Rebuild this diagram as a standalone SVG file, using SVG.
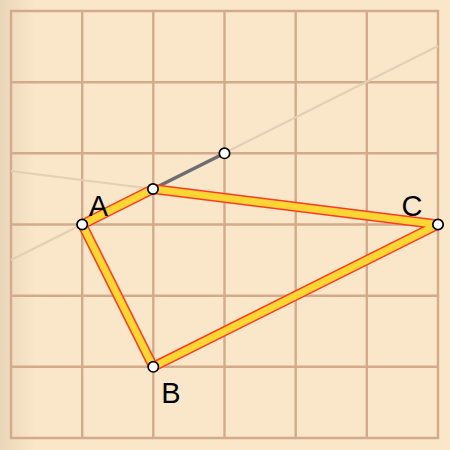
<svg xmlns="http://www.w3.org/2000/svg" width="450" height="450" viewBox="0 0 450 450">
<defs>
<linearGradient id="bgL" x1="0" y1="0" x2="1" y2="0">
<stop offset="0" stop-color="#ead6b8"/>
<stop offset="1" stop-color="#fae6c8"/>
</linearGradient>
<style>
.grid{stroke:#d3ab8b;stroke-width:2.4;fill:none}
.faint{stroke:#e2d0b4;stroke-width:2.2;fill:none}
.tri-o{stroke:#ff3b22;stroke-width:10;fill:none;stroke-linejoin:round}
.tri-i{stroke:#ffd633;stroke-width:7;fill:none;stroke-linejoin:round}
.seg{stroke:#6e6e6e;stroke-width:3.5;fill:none}
.pt{fill:#ffffff;stroke:#000000;stroke-width:1.7}
.lbl{font-family:"Liberation Sans",Arial,sans-serif;font-size:29px;fill:#000000;text-anchor:middle}
</style>
</defs>
<rect x="0" y="0" width="450" height="450" fill="#fae6c8"/>
<rect x="0" y="0" width="35" height="450" fill="url(#bgL)"/>
<g id="grid">
<path class="grid" d="M11 11H438V438H11Z M82.2 11V438 M153.3 11V438 M224.5 11V438 M295.7 11V438 M366.8 11V438 M11 82.2H438 M11 153.3H438 M11 224.5H438 M11 295.7H438 M11 366.8H438"/>
</g>
<g id="connectors">
<line class="faint" x1="11" y1="260" x2="438" y2="46"/>
<line class="faint" x1="11" y1="171" x2="153" y2="189"/>
<line class="seg" x1="153" y1="189" x2="224.5" y2="153.3"/>
<polygon class="tri-o" points="82.2,224.5 153,189 438,224.5 153.3,366.8"/>
<polygon class="tri-i" points="82.2,224.5 153,189 438,224.5 153.3,366.8"/>
</g>
<g id="node-D"><circle class="pt" cx="153" cy="189" r="5.2"/></g>
<g id="node-E"><circle class="pt" cx="224.5" cy="153.3" r="5.2"/></g>
<g id="node-A"><circle class="pt" cx="82.2" cy="224.5" r="5.2"/><text class="lbl" x="98.5" y="216">A</text></g>
<g id="node-B"><circle class="pt" cx="153.3" cy="366.8" r="5.2"/><text class="lbl" x="171" y="403">B</text></g>
<g id="node-C"><circle class="pt" cx="438" cy="224.5" r="5.2"/><text class="lbl" x="412" y="216">C</text></g>
</svg>
